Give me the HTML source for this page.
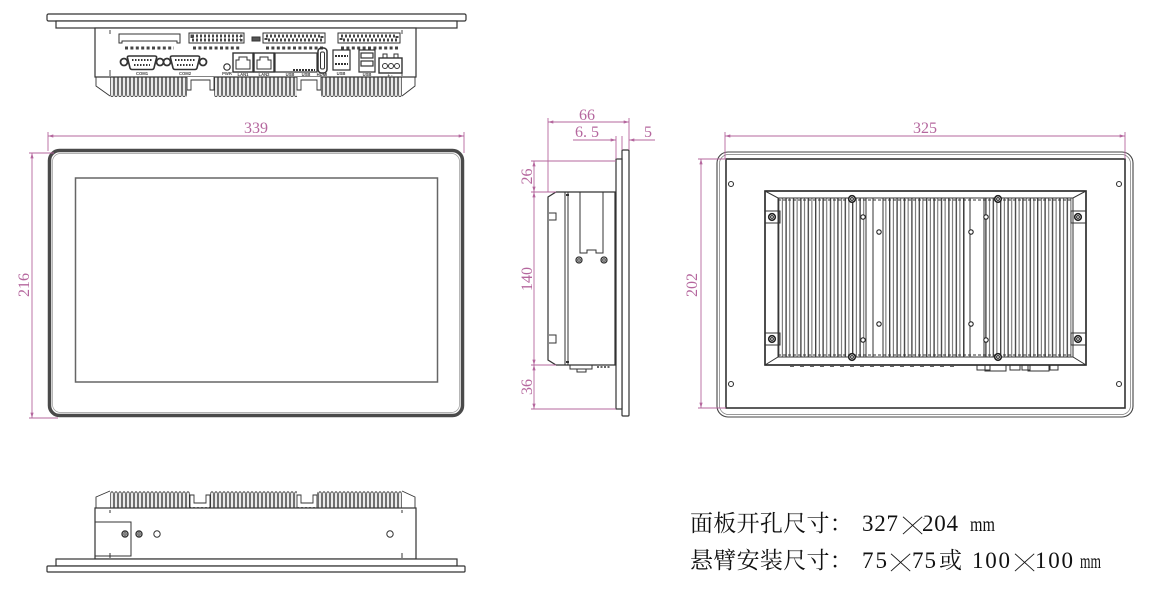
<!DOCTYPE html>
<html><head><meta charset="utf-8">
<style>
html,body{margin:0;padding:0;background:#fff;}
svg{display:block}
</style></head>
<body>
<svg width="1160" height="591" viewBox="0 0 1160 591" xmlns="http://www.w3.org/2000/svg">
<defs>
  <marker id="ar" viewBox="0 0 10 6" refX="10" refY="3" markerWidth="6" markerHeight="3.2" orient="auto-start-reverse" markerUnits="userSpaceOnUse">
    <path d="M0,0 L10,3 L0,6z" fill="#b5679e"/>
  </marker>
  <pattern id="finT" x="110" y="77" width="4" height="21" patternUnits="userSpaceOnUse">
    <path d="M0.7,0 V17.5 Q0.7,19.8 2,19.8 Q3.3,19.8 3.3,17.5 V0" fill="none" stroke="#333" stroke-width="0.8"/>
  </pattern>
  <pattern id="finBot" x="110" y="491" width="4" height="17" patternUnits="userSpaceOnUse">
    <path d="M0.7,17 V3 Q0.7,0.8 2,0.8 Q3.3,0.8 3.3,3 V17" fill="none" stroke="#333" stroke-width="0.8"/>
  </pattern>
  <pattern id="finB" x="778" y="0" width="7.4" height="10" patternUnits="userSpaceOnUse">
    <line x1="0.7" y1="0" x2="0.7" y2="10" stroke="#3a3a3a" stroke-width="1.3"/>
    <line x1="4.3" y1="0" x2="4.3" y2="10" stroke="#555" stroke-width="0.9"/>
  </pattern>
</defs>

<rect width="1160" height="591" fill="#fff"/>

<!-- ================= TOP VIEW ================= -->
<g stroke="#333" fill="#fff" stroke-width="1.2">
  <rect x="47" y="14" width="419" height="7" rx="1.5"/>
  <rect x="56" y="21" width="401" height="7"/>
  <rect x="95" y="28" width="321" height="49"/>
</g>
<rect x="110" y="77" width="292" height="20" fill="url(#finT)"/>
<g fill="#fff" stroke="none">
  <rect x="187" y="77" width="27" height="21"/>
  <rect x="297" y="77" width="24" height="21"/>
</g>
<g stroke="#333" fill="none" stroke-width="0.9">
  <path d="M187,77 V90 H191 V80 H210 V90 H214 V77"/>
  <path d="M297,77 V90 H301 V80 H317 V90 H321 V77"/>
  <path d="M96,77 V86 L110,96"/>
  <path d="M415,77 V86 L402,96"/>
  <line x1="110" y1="30" x2="110" y2="34" /><line x1="110" y1="70" x2="110" y2="76"/>
  <line x1="402" y1="30" x2="402" y2="34" /><line x1="402" y1="70" x2="402" y2="76"/>
</g>
<g stroke="#333" fill="none" stroke-width="1">
  <path d="M119,34 H180 V43 H177 V41 H122 V43 H119 Z"/>
  <rect x="189" y="33" width="55" height="10"/>
  <rect x="263" y="33" width="62" height="10"/>
  <rect x="338" y="33" width="62" height="10"/>
  <rect x="252" y="37" width="8" height="4" fill="#555"/>
</g>
<g fill="#444">
  <rect x="192" y="36" width="49" height="4" fill="none" stroke="#444" stroke-dasharray="2 2" stroke-width="3"/>
  <rect x="266" y="36" width="56" height="4" fill="none" stroke="#444" stroke-dasharray="2 2" stroke-width="3"/>
  <rect x="341" y="36" width="56" height="4" fill="none" stroke="#444" stroke-dasharray="2 2" stroke-width="3"/>
  <line x1="125" y1="48" x2="174" y2="48" stroke="#444" stroke-width="3" stroke-dasharray="3 2.4"/>
  <line x1="193" y1="48" x2="241" y2="48" stroke="#444" stroke-width="3" stroke-dasharray="3 2.4"/>
  <line x1="266" y1="48" x2="323" y2="48" stroke="#444" stroke-width="3" stroke-dasharray="3 2.4"/>
  <line x1="341" y1="48" x2="398" y2="48" stroke="#444" stroke-width="3" stroke-dasharray="3 2.4"/>
</g>
<g stroke="#333" stroke-width="1" fill="none">
  <circle cx="124" cy="62" r="3.5" stroke-width="1.8"/><circle cx="160" cy="62" r="3.5" stroke-width="1.8"/>
  <path d="M129,56 H155 Q157,56 156.5,58 L154,68 Q153.5,69.5 152,69.5 H132 Q130.5,69.5 130,68 L127.5,58 Q127,56 129,56 Z" stroke-width="1.6"/>
  <line x1="132" y1="60" x2="152" y2="60" stroke-dasharray="1.5 1.5" stroke-width="2"/>
  <line x1="134" y1="65" x2="150" y2="65" stroke-dasharray="1.5 1.5" stroke-width="2"/>
  <circle cx="167" cy="62" r="3.5" stroke-width="1.8"/><circle cx="203" cy="62" r="3.5" stroke-width="1.8"/>
  <path d="M172,56 H198 Q200,56 199.5,58 L197,68 Q196.5,69.5 195,69.5 H175 Q173.5,69.5 173,68 L170.5,58 Q170,56 172,56 Z" stroke-width="1.6"/>
  <line x1="175" y1="60" x2="195" y2="60" stroke-dasharray="1.5 1.5" stroke-width="2"/>
  <line x1="177" y1="65" x2="193" y2="65" stroke-dasharray="1.5 1.5" stroke-width="2"/>
  <circle cx="227" cy="67" r="3.2" stroke-width="1.2"/>
  <rect x="233" y="53" width="20" height="19" stroke-width="1.4"/>
  <rect x="254" y="53" width="20" height="19" stroke-width="1.4"/>
  <path d="M236,69 V60 H239 V57 H247 V60 H250 V69 Z"/>
  <path d="M257,69 V60 H260 V57 H268 V60 H271 V69 Z"/>
  <rect x="275" y="53" width="42" height="19" stroke-width="1.2"/>
  <line x1="293" y1="70" x2="315" y2="70" stroke-dasharray="2 1" stroke-width="2"/>
  <rect x="318" y="48" width="9" height="25" rx="3.5" stroke-width="1.5"/>
  <rect x="320.5" y="52" width="4" height="17" rx="1.5"/>
  <rect x="333" y="50" width="17" height="20" stroke-width="1.2"/>
  <line x1="335" y1="56" x2="348" y2="56" stroke-dasharray="2 1" stroke-width="2"/>
  <line x1="335" y1="64" x2="348" y2="64" stroke-dasharray="2 1" stroke-width="2"/>
  <rect x="359" y="50" width="16" height="22" stroke-width="1.2"/>
  <rect x="361" y="53" width="12" height="5" stroke-width="1.2"/>
  <rect x="361" y="61" width="12" height="5" stroke-width="1.2"/>
  <rect x="379" y="58" width="23" height="15" stroke-width="1.4"/>
  <rect x="383" y="54" width="4" height="4"/><rect x="394" y="54" width="4" height="4"/>
  <circle cx="385" cy="66" r="2.5"/><circle cx="391" cy="66" r="2.5"/><circle cx="397" cy="66" r="2.5"/>
</g>
<g font-family="Liberation Sans, sans-serif" font-size="4.2" font-weight="bold" fill="#444" text-anchor="middle">
  <text x="142" y="75">COM1</text><text x="185" y="75">COM2</text>
  <text x="227" y="75">PWR</text><text x="243" y="76">LAN1</text><text x="264" y="76">LAN2</text>
  <text x="290" y="76">USB</text><text x="306" y="76">USB</text><text x="322" y="76">HDMI</text>
  <text x="341" y="75">USB</text><text x="367" y="76">USB</text><text x="390" y="77">+ -</text>
</g>

<!-- ================= FRONT VIEW ================= -->
<rect x="49.5" y="150.5" width="413" height="265" rx="10" fill="none" stroke="#4a4a4a" stroke-width="3.5"/>
<rect x="52.5" y="153.5" width="407" height="259" rx="8" fill="none" stroke="#999" stroke-width="0.7"/>
<rect x="75.5" y="178" width="362" height="204" fill="none" stroke="#666" stroke-width="1.5"/>

<!-- ================= SIDE VIEW ================= -->
<g stroke="#333" stroke-width="1.2" fill="#fff">
  <rect x="622" y="150" width="7" height="266" rx="1"/>
  <rect x="616" y="159" width="6" height="250"/>
  <path d="M556,192 H615 V365 H556 L548,360 V197 Z"/>
</g>
<g stroke="#333" stroke-width="1" fill="none">
  <line x1="565" y1="192" x2="565" y2="365"/>
  <line x1="568" y1="192" x2="568" y2="365"/>
  <path d="M580,192 V253 H587 V250 H596 V253 H603 V192"/>
  <circle cx="579" cy="260" r="3" stroke-width="1.3"/><circle cx="579" cy="260" r="1.3"/>
  <circle cx="604" cy="260" r="3" stroke-width="1.3"/><circle cx="604" cy="260" r="1.3"/>
  <path d="M549,213 H556 V220 H549"/>
  <path d="M549,335 H556 V343 H549"/>
  <path d="M570,365 V369 H592 V365"/>
  <path d="M577,369 V372 H586 V369"/>
  <line x1="597" y1="367" x2="610" y2="367" stroke-dasharray="2 1.5" stroke-width="1.5"/>
  <line x1="566" y1="195" x2="569" y2="195" stroke-width="2"/>
  <line x1="566" y1="362" x2="569" y2="362" stroke-width="2"/>
</g>

<!-- ================= BACK VIEW ================= -->
<rect x="717" y="152" width="416" height="265" rx="11" fill="none" stroke="#444" stroke-width="1.1"/>
<rect x="719.5" y="154.5" width="411" height="260" rx="9" fill="none" stroke="#777" stroke-width="0.7"/>
<rect x="726" y="159" width="399" height="249" fill="none" stroke="#333" stroke-width="1.6"/>
<g stroke="#333" stroke-width="1.1" fill="none">
  <circle cx="731" cy="184" r="2.5"/><circle cx="1119" cy="184" r="2.5"/>
  <circle cx="731" cy="384" r="2.5"/><circle cx="1119" cy="384" r="2.5"/>
</g>
<rect x="778" y="198" width="295" height="159" fill="url(#finB)"/>
<g fill="#fff" stroke="none">
  <rect x="866" y="198" width="17" height="159"/>
  <rect x="964" y="198" width="20" height="159"/>
</g>
<g stroke="#333" stroke-width="1" fill="none">
  <line x1="873" y1="198" x2="873" y2="357"/><line x1="883" y1="198" x2="883" y2="357"/>
  <line x1="866" y1="198" x2="866" y2="357"/>
  <line x1="970" y1="198" x2="970" y2="357"/><line x1="984" y1="198" x2="984" y2="357"/>
  <line x1="964" y1="198" x2="964" y2="357"/>
  <rect x="765" y="191" width="321" height="174" stroke="#222" stroke-width="1.6"/>
  <path d="M765,191 L778,198 H1073 L1086,191"/>
  <path d="M765,365 L778,357 H1073 L1086,365"/>
  <line x1="778" y1="198" x2="778" y2="357"/>
  <line x1="1073" y1="198" x2="1073" y2="357"/>
  <line x1="778" y1="200" x2="1073" y2="200" stroke-dasharray="3 2"/>
  <line x1="778" y1="355" x2="1073" y2="355" stroke-dasharray="3 2"/>
  <path d="M765,211 H780 V223 H765"/><path d="M765,333 H780 V345 H765"/>
  <path d="M1086,211 H1071 V223 H1086"/><path d="M1086,333 H1071 V345 H1086"/>
  <path d="M977,365 V370 H990 V365"/><path d="M985,365 V371 H1006 V365"/>
  <path d="M1010,365 V370 H1020 V365"/><path d="M1022,365 V370 H1030 V365"/>
  <path d="M1028,365 V371 H1049 V365"/><path d="M1050,365 V370 H1058 V365"/>
  <line x1="790" y1="366.5" x2="960" y2="366.5" stroke-dasharray="4 6" stroke-width="0.8"/>
</g>
<g fill="#fff" stroke="#222">
  <g stroke-width="1.6">
    <circle cx="772" cy="217" r="3.3"/><circle cx="772" cy="339" r="3.3"/>
    <circle cx="1078" cy="217" r="3.3"/><circle cx="1078" cy="339" r="3.3"/>
    <circle cx="852" cy="199" r="3.3"/><circle cx="852" cy="357" r="3.3"/>
    <circle cx="998" cy="199" r="3.3"/><circle cx="998" cy="357" r="3.3"/>
  </g>
  <g stroke-width="1" fill="none">
    <circle cx="772" cy="217" r="1.4"/><circle cx="772" cy="339" r="1.4"/>
    <circle cx="1078" cy="217" r="1.4"/><circle cx="1078" cy="339" r="1.4"/>
    <circle cx="852" cy="199" r="1.4"/><circle cx="852" cy="357" r="1.4"/>
    <circle cx="998" cy="199" r="1.4"/><circle cx="998" cy="357" r="1.4"/>
  </g>
  <g stroke-width="1.1">
    <circle cx="863" cy="217" r="2.2"/><circle cx="863" cy="340" r="2.2"/>
    <circle cx="986" cy="217" r="2.2"/><circle cx="986" cy="340" r="2.2"/>
    <circle cx="879" cy="232" r="2.2"/><circle cx="879" cy="324" r="2.2"/>
    <circle cx="971" cy="232" r="2.2"/><circle cx="971" cy="324" r="2.2"/>
  </g>
</g>

<!-- ================= BOTTOM VIEW ================= -->
<rect x="110" y="491" width="292" height="17" fill="url(#finBot)"/>
<g fill="#fff" stroke="none">
  <rect x="190" y="490" width="20" height="17"/>
  <rect x="297" y="490" width="20" height="17"/>
</g>
<g stroke="#333" stroke-width="0.9" fill="none">
  <path d="M190,508 V495 H194 V503 H206 V495 H210 V508"/>
  <path d="M297,508 V495 H301 V503 H313 V495 H317 V508"/>
  <path d="M96,508 V497 L110,491"/>
  <path d="M415,508 V497 L402,491"/>
</g>
<g stroke="#333" stroke-width="1.2" fill="#fff">
  <rect x="95" y="508" width="321" height="51"/>
  <rect x="56" y="559" width="401" height="7"/>
  <rect x="47" y="566" width="418" height="6" rx="1"/>
</g>
<g stroke="#333" stroke-width="1" fill="none">
  <path d="M95,522 H131 V556 H95"/>
  <line x1="110" y1="510" x2="110" y2="513"/><line x1="110" y1="553" x2="110" y2="558"/>
  <line x1="402" y1="510" x2="402" y2="513"/><line x1="402" y1="553" x2="402" y2="558"/>
  <circle cx="125" cy="534" r="3" stroke-width="1.4"/><circle cx="125" cy="534" r="1.2"/>
  <circle cx="139" cy="534" r="3" stroke-width="1.4"/><circle cx="139" cy="534" r="1.2"/>
  <circle cx="157" cy="534" r="3.2"/>
  <circle cx="390" cy="534" r="3.2"/>
</g>

<!-- ================= DIMENSIONS ================= -->
<g stroke="#b5679e" stroke-width="0.9" fill="none">
  <line x1="48" y1="136" x2="464" y2="136" marker-start="url(#ar)" marker-end="url(#ar)"/>
  <line x1="48" y1="132" x2="48" y2="151"/><line x1="464" y1="132" x2="464" y2="153"/>
  <line x1="32" y1="153" x2="32" y2="418" marker-start="url(#ar)" marker-end="url(#ar)"/>
  <line x1="29" y1="153" x2="54" y2="153"/><line x1="29" y1="418" x2="58" y2="418"/>
  <line x1="548" y1="122" x2="629" y2="122" marker-start="url(#ar)" marker-end="url(#ar)"/>
  <line x1="548" y1="118" x2="548" y2="192"/><line x1="629" y1="118" x2="629" y2="150"/>
  <line x1="573" y1="140" x2="616" y2="140" marker-end="url(#ar)"/>
  <line x1="629" y1="140" x2="655" y2="140" marker-start="url(#ar)"/>
  <line x1="616" y1="136" x2="616" y2="159"/><line x1="622" y1="136" x2="622" y2="150"/>
  <line x1="534" y1="161" x2="534" y2="192" marker-start="url(#ar)" marker-end="url(#ar)"/>
  <line x1="534" y1="192" x2="534" y2="365" marker-start="url(#ar)" marker-end="url(#ar)"/>
  <line x1="534" y1="365" x2="534" y2="409" marker-start="url(#ar)" marker-end="url(#ar)"/>
  <line x1="531" y1="161" x2="616" y2="161"/>
  <line x1="531" y1="192" x2="556" y2="192"/>
  <line x1="531" y1="365" x2="556" y2="365"/>
  <line x1="531" y1="409" x2="616" y2="409"/>
  <line x1="725" y1="136" x2="1125" y2="136" marker-start="url(#ar)" marker-end="url(#ar)"/>
  <line x1="725" y1="132" x2="725" y2="159"/><line x1="1125" y1="132" x2="1125" y2="159"/>
  <line x1="701" y1="159" x2="701" y2="408" marker-start="url(#ar)" marker-end="url(#ar)"/>
  <line x1="698" y1="159" x2="726" y2="159"/><line x1="698" y1="408" x2="726" y2="408"/>
</g>
<g font-family="Liberation Serif, serif" font-size="16" fill="#b5679e" text-anchor="middle">
  <text x="256" y="133">339</text>
  <text transform="translate(29,285) rotate(-90)">216</text>
  <text x="587" y="120">66</text>
  <text x="587" y="137">6. 5</text>
  <text x="648" y="137">5</text>
  <text transform="translate(532,176.5) rotate(-90)">26</text>
  <text transform="translate(532,279) rotate(-90)">140</text>
  <text transform="translate(532,387) rotate(-90)">36</text>
  <text x="925" y="133">325</text>
  <text transform="translate(697,285) rotate(-90)">202</text>
</g>

<!-- ================= NOTES ================= -->
<g fill="#111" font-family="Liberation Serif, 'Noto Serif CJK SC', serif">
  <text x="690" y="531" font-size="23" letter-spacing="0.3" font-family="'Noto Serif CJK SC', 'Liberation Serif', serif">面板开孔尺寸：</text>
  <text x="862" y="531" font-size="23" textLength="36" lengthAdjust="spacing">327</text>
  <text x="922" y="531" font-size="23" textLength="36" lengthAdjust="spacing">204</text>
  <text x="970" y="531" font-size="20" textLength="25" lengthAdjust="spacingAndGlyphs">mm</text>

  <text x="690" y="568" font-size="23" letter-spacing="0.3" font-family="'Noto Serif CJK SC', 'Liberation Serif', serif">悬臂安装尺寸：</text>
  <text x="862" y="568" font-size="23" textLength="25" lengthAdjust="spacing">75</text>
  <text x="912" y="568" font-size="23" textLength="24" lengthAdjust="spacing">75</text>
  <text x="939" y="568" font-size="23" font-family="'Noto Serif CJK SC', 'Liberation Serif', serif">或</text>
  <text x="972" y="568" font-size="23" textLength="38" lengthAdjust="spacing">100</text>
  <text x="1035" y="568" font-size="23" textLength="38" lengthAdjust="spacing">100</text>
  <text x="1080" y="568" font-size="20" textLength="21" lengthAdjust="spacingAndGlyphs">mm</text>
</g>
<g fill="#111" stroke="#fff" stroke-width="0.75" font-family="Liberation Serif, serif" font-size="23">
  <text transform="translate(897,542) scale(2.4,2.15)">×</text>
  <text transform="translate(885,579) scale(2.4,2.15)">×</text>
  <text transform="translate(1009,579) scale(2.4,2.15)">×</text>
</g>
</svg>
</body></html>
